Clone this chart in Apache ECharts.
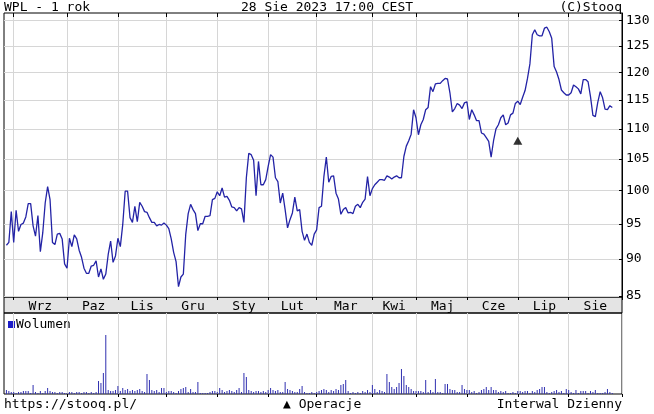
<!DOCTYPE html>
<html><head><meta charset="utf-8">
<script src="https://cdn.jsdelivr.net/npm/echarts@6/dist/echarts.min.js"></script>
<style>html,body{margin:0;padding:0;background:#fff}#c{width:654px;height:414px}</style>
</head><body><div id="c"></div>
<script>
// ---------- data ----------
const holidays = ['2022-11-01','2022-11-11','2022-12-26','2023-01-06','2023-04-07','2023-04-10','2023-05-01','2023-05-03','2023-06-08','2023-08-15'];
const monthNames = ['Sty','Lut','Mar','Kwi','Maj','Cze','Lip','Sie','Wrz','Paz','Lis','Gru'];
const yTicks = [85,90,95,100,105,110,115,120,125,130];

const priceAug22 = [91.9,92.3,96.8];
const priceSep22 = [92.3,97.0,93.9,94.9,95.1,96.0,98.0,98.0,94.7,93.2,96.2,91.0,93.7,98.1,100.6,98.6,92.3,92.0,93.5,93.6,92.8,89.3];
const priceOct22 = [88.7,92.9,91.7,93.4,92.8,91.2,90.2,88.7,88.0,88.0,89.0,89.1,89.7,87.5,88.6,87.2,87.9,90.6,92.5,89.5,90.4];
const priceNov22 = [92.9,91.7,94.9,99.9,99.9,95.9,95.2,97.6,95.3,98.2,97.6,96.8,96.7,95.9,95.2,95.2,94.7,94.9,94.8,95.1];
const priceDec22 = [94.8,94.3,92.8,90.9,89.6,86.2,87.5,87.9,93.5,96.5,97.9,97.1,96.5,94.0,95.0,95.0,96.1,96.1,96.2,98.6,98.8];
const priceJan23 = [99.8,99.2,100.4,99.0,99.1,98.5,97.5,97.4,96.9,97.4,97.2,95.2,102.0,105.9,105.7,104.8,99.2,104.6,100.9,100.9,101.7];
const priceFeb23 = [103.8,105.7,105.3,102.0,101.4,98.1,99.6,97.1,94.4,95.6,96.6,99.0,96.9,97.1,93.9,92.6,93.5,92.3,91.9,93.5];
const priceMar23 = [94.1,97.4,97.6,102.2,105.3,101.3,102.2,102.3,99.6,98.7,96.4,97.1,97.4,96.6,96.7,96.5,97.6,97.9,97.4,98.2,98.7,102.2,99.2];
const priceApr23 = [100.3,100.9,101.3,101.7,101.7,101.6,102.3,102.1,101.8,102.1,102.3,102.0,102.0,105.4,107.1,108.0,109.1,113.3];
const priceMay23 = [111.9,109.0,110.7,111.6,113.3,113.7,117.4,116.5,117.9,118.0,118.0,118.5,118.9,118.8,116.3,112.9,113.5,114.4,114.1,113.5,114.5];
const priceJun23 = [114.7,111.6,113.3,112.4,111.4,111.4,109.3,109.1,108.5,107.9,105.3,108.0,110.0,110.7,111.9,112.4,110.7,111.0,112.4,112.7,114.4];
const priceJul23 = [114.8,114.2,115.5,116.7,118.9,121.6,127.2,128.2,127.2,127.0,127.0,128.5,128.7,127.8,126.5,121.1,120.1,118.7,116.8,116.3,115.9];
const priceAug23 = [115.9,116.3,117.7,117.4,117.0,116.1,118.7,118.7,118.3,115.6,112.3,112.1,114.6,116.5,115.4,113.4,113.3,114.0,113.7];

const volAug22 = [12,9,6];
const volSep22 = [6,3,6,6,9,9,9,3,27,6,3,9,3,9,18,9,6,6,3,6,6,3];
const volOct22 = [3,6,6,3,6,6,3,6,6,3,6,3,6,39,33,63,177,12,9,9,12];
const volNov22 = [24,9,18,12,15,9,12,9,12,15,9,6,60,42,12,9,12,6,18,18];
const volDec22 = [6,9,9,6,3,9,15,18,21,6,15,6,6,36,3,3,3,3,6,9,9];
const volJan23 = [6,18,12,6,9,12,9,6,12,18,6,63,51,12,9,6,9,9,6,9,6];
const volFeb23 = [12,18,12,9,12,6,6,36,15,12,9,6,6,15,24,6,3,3,6,3];
const volMar23 = [6,9,12,15,12,6,12,9,15,12,27,30,42,9,3,6,3,6,3,9,6,12,6];
const volApr23 = [27,15,6,12,9,6,60,36,21,15,21,33,75,54,27,21,15,9];
const volMay23 = [9,9,9,6,42,6,12,6,45,6,6,3,30,30,15,12,12,6,6,27,15];
const volJun23 = [12,12,6,9,3,6,12,15,21,12,21,12,12,6,9,6,9,3,3,6,3];
const volJul23 = [9,9,6,9,9,3,9,6,12,15,21,21,6,3,6,9,12,6,9,3,15];
const volAug23 = [12,6,3,12,3,9,9,9,3,9,6,12,3,3,3,6,15,6,3];

const opDate = '2023-07-03';
const opValue = 108.0;

// ---------- build ----------
const days = [];
const dt = new Date(Date.UTC(2022,7,26));
const endT = Date.UTC(2023,8,1);
while (dt.getTime() <= endT) {
  const wd = dt.getUTCDay();
  const s = dt.toISOString().slice(0,10);
  if (wd !== 0 && wd !== 6 && holidays.indexOf(s) < 0) days.push(s);
  dt.setUTCDate(dt.getUTCDate()+1);
}
const prices = ['-'].concat(priceAug22,priceSep22,priceOct22,priceNov22,priceDec22,priceJan23,priceFeb23,priceMar23,priceApr23,priceMay23,priceJun23,priceJul23,priceAug23);
const vols = ['-'].concat(volAug22,volSep22,volOct22,volNov22,volDec22,volJan23,volFeb23,volMar23,volApr23,volMay23,volJun23,volJul23,volAug23);

const monthStarts = [];
for (let i = 1; i < days.length; i++) if (days[i].slice(0,7) !== days[i-1].slice(0,7)) monthStarts.push(i);
const msSet = new Set(monthStarts);
const labelSet = new Set();
for (let k = 0; k < monthStarts.length-1; k++) labelSet.add(Math.round((monthStarts[k]+monthStarts[k+1])/2));
const isMS = (i) => msSet.has(i);

const FONT = 'DejaVu Sans Mono';
const GRID_C = '#d6d6d6';
const L = 4, R = 622, W = R - L;

const chart = echarts.init(document.getElementById('c'), null, {renderer:'canvas'});
chart.setOption({
  animation: false,
  backgroundColor: '#fff',
  grid: [
    {left: L, right: 654-R, top: 13, height: 284, show: true, borderColor: '#000', borderWidth: 1},
    {left: L, right: 654-R, top: 313, height: 81, show: true, borderColor: '#000', borderWidth: 1}
  ],
  xAxis: [
    {type:'category', gridIndex:0, data: days, boundaryGap:false,
     axisLine:{show:false},
     axisTick:{show:true, interval:isMS, length:3, inside:false, lineStyle:{color:'#000'}},
     axisLabel:{show:true, interval:(i)=>labelSet.has(i), margin:3, color:'#000', fontFamily:FONT, fontSize:13,
       formatter:(v)=>monthNames[parseInt(v.slice(5,7),10)-1]},
     splitLine:{show:true, interval:isMS, lineStyle:{color:GRID_C, width:1}}},
    {type:'category', gridIndex:0, data: days, boundaryGap:false, position:'top',
     axisLine:{show:false},
     axisTick:{show:true, interval:isMS, length:4, inside:true, lineStyle:{color:'#000'}},
     axisLabel:{show:false}, splitLine:{show:false}},
    {type:'category', gridIndex:1, data: days, boundaryGap:false, position:'top',
     axisLine:{show:false},
     axisTick:{show:true, interval:isMS, length:3, inside:true, lineStyle:{color:'#000'}},
     axisLabel:{show:false},
     splitLine:{show:true, interval:isMS, lineStyle:{color:GRID_C, width:1}}}
  ],
  yAxis: [
    {type:'log', gridIndex:0, position:'right', min:84.84, max:131.55,
     axisLine:{show:true, lineStyle:{color:'#000'}},
     axisTick:{show:true, customValues:yTicks, length:3, inside:true, lineStyle:{color:'#000'}},
     axisLabel:{show:true, customValues:yTicks, margin:4, color:'#000', fontFamily:FONT, fontSize:13},
     splitLine:{show:true, lineStyle:{color:GRID_C, width:1}}},
    {type:'value', gridIndex:1, min:0, max:243, show:false}
  ],
  graphic: [
    {type:'rect', z:-1, shape:{x:L, y:297, width:W, height:16}, style:{fill:'#e4e4e4', stroke:'#000', lineWidth:1}},
    {type:'text', x:L, y:8, style:{text:'WPL - 1 rok', font:'13px "DejaVu Sans Mono"', fill:'#000', textAlign:'left', textVerticalAlign:'middle'}},
    {type:'text', x:327, y:8, style:{text:'28 Sie 2023 17:00 CEST', font:'13px "DejaVu Sans Mono"', fill:'#000', textAlign:'center', textVerticalAlign:'middle'}},
    {type:'text', x:R, y:8, style:{text:'(C)Stooq', font:'13px "DejaVu Sans Mono"', fill:'#000', textAlign:'right', textVerticalAlign:'middle'}},
    {type:'rect', shape:{x:8, y:321, width:7, height:7}, style:{fill:'#1c1cc8'}},
    {type:'text', x:16, y:325, style:{text:'Wolumen', font:'13px "DejaVu Sans Mono"', fill:'#000', textAlign:'left', textVerticalAlign:'middle'}},
    {type:'text', x:L, y:405, style:{text:'https://stooq.pl/', font:'13px "DejaVu Sans Mono"', fill:'#000', textAlign:'left', textVerticalAlign:'middle'}},
    {type:'text', x:283, y:405, style:{text:'\u25B2 Operacje', font:'13px "DejaVu Sans Mono"', fill:'#000', textAlign:'left', textVerticalAlign:'middle'}},
    {type:'text', x:R, y:405, style:{text:'Interwal Dzienny', font:'13px "DejaVu Sans Mono"', fill:'#000', textAlign:'right', textVerticalAlign:'middle'}}
  ],
  series: [
    {type:'line', xAxisIndex:0, yAxisIndex:0, data: prices, symbol:'none', connectNulls:false,
     lineStyle:{color:'#2323a6', width:1.3}, z:3},
    {type:'scatter', xAxisIndex:0, yAxisIndex:0, data:[[opDate, opValue]], symbol:'triangle', symbolSize:[9,8],
     itemStyle:{color:'#000'}, z:4},
    {type:'bar', xAxisIndex:2, yAxisIndex:1, data: vols, barWidth:1, itemStyle:{color:'#3030b0'}, z:3}
  ]
});
</script>
</body></html>
